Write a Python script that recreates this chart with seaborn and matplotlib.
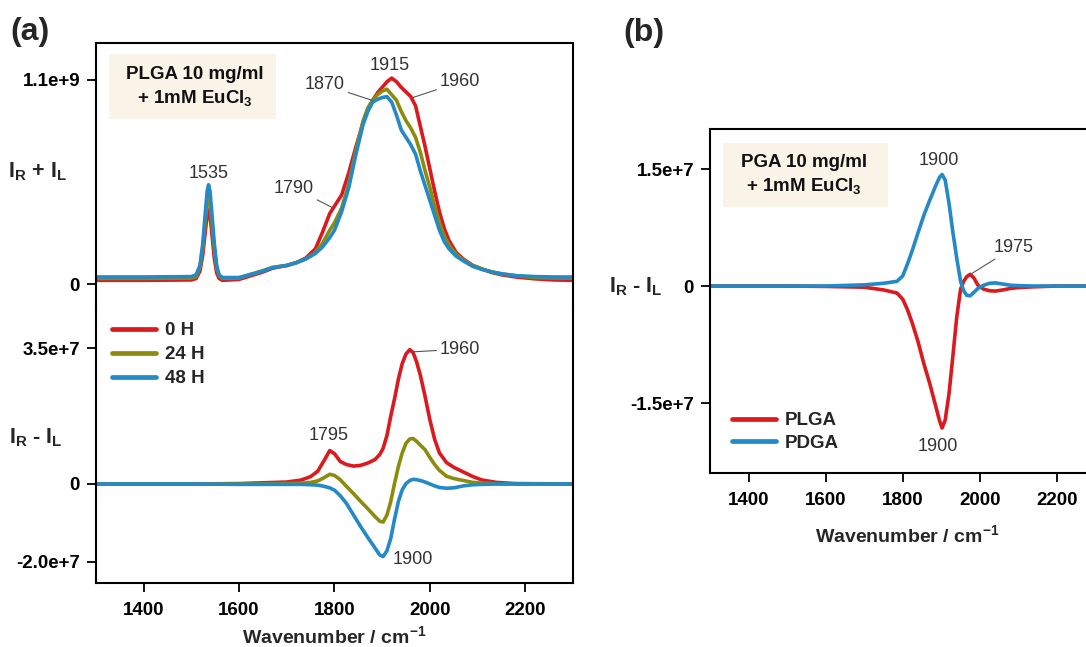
import matplotlib
matplotlib.use("Agg")
import matplotlib.pyplot as plt
import seaborn as sns
from matplotlib.patches import Rectangle

# ---------------- data ----------------
# (a) upper: I_R + I_L, units of 1e9
wn_sum = [1300, 1400, 1500, 1510, 1518, 1524, 1529, 1533, 1536, 1539, 1543, 1548, 1553,
          1558, 1565, 1600, 1650, 1670, 1700,
          1720, 1740, 1760, 1775, 1790, 1800, 1815, 1830, 1845, 1860, 1870, 1880, 1890,
          1900, 1910, 1920, 1930, 1940, 1950, 1960, 1970, 1980, 1990, 2000, 2010, 2020,
          2030, 2040, 2055, 2070, 2090, 2110, 2130, 2150, 2180, 2220, 2260, 2300]
sum_0h = [0.02, 0.02, 0.022, 0.03, 0.07, 0.16, 0.28, 0.37, 0.40, 0.37, 0.27, 0.14, 0.06,
          0.03, 0.02, 0.025, 0.065, 0.085, 0.10,
          0.115, 0.14, 0.19, 0.28, 0.38, 0.42, 0.48, 0.60, 0.74, 0.87, 0.94, 0.99, 1.03,
          1.06, 1.09, 1.11, 1.09, 1.06, 1.035, 1.01, 0.96, 0.85, 0.74, 0.62, 0.50, 0.39,
          0.30, 0.235, 0.17, 0.135, 0.10, 0.08, 0.062, 0.05, 0.038, 0.028, 0.022, 0.02]
sum_24h = [0.03, 0.03, 0.032, 0.04, 0.09, 0.20, 0.34, 0.44, 0.48, 0.44, 0.33, 0.19, 0.085,
           0.045, 0.03, 0.032, 0.072, 0.09, 0.10,
           0.115, 0.135, 0.17, 0.22, 0.29, 0.33, 0.41, 0.54, 0.72, 0.88, 0.95, 0.99, 1.02,
           1.04, 1.05, 1.02, 0.99, 0.93, 0.88, 0.84, 0.79, 0.71, 0.61, 0.52, 0.42, 0.33,
           0.26, 0.21, 0.16, 0.13, 0.10, 0.08, 0.065, 0.055, 0.045, 0.035, 0.032, 0.032]
sum_48h = [0.038, 0.038, 0.04, 0.05, 0.10, 0.22, 0.38, 0.50, 0.535, 0.50, 0.38, 0.22, 0.10,
           0.05, 0.035, 0.035, 0.07, 0.088, 0.10,
           0.115, 0.135, 0.165, 0.20, 0.25, 0.29, 0.39, 0.52, 0.70, 0.86, 0.93, 0.98, 0.995,
           1.005, 1.01, 0.98, 0.91, 0.83, 0.79, 0.75, 0.70, 0.61, 0.53, 0.45, 0.37, 0.29,
           0.23, 0.19, 0.15, 0.125, 0.095, 0.078, 0.065, 0.055, 0.045, 0.04, 0.038, 0.038]

# (a) lower: I_R - I_L, units of 1e6
wn_diff = [1300, 1500, 1600, 1700, 1730, 1750, 1765, 1778, 1790, 1800, 1812, 1825, 1840,
           1855, 1870, 1885, 1895, 1902, 1910, 1918, 1926, 1934, 1942, 1950, 1958, 1965,
           1972, 1980, 1990, 2000, 2010, 2020, 2035, 2050, 2070, 2090, 2110, 2140, 2180, 2300]
diff_0h = [0, 0, 0.1, 0.5, 1.0, 1.9, 3.3, 6.0, 8.6, 7.8, 5.8, 5.0, 4.6,
           4.8, 5.4, 6.3, 7.6, 9.2, 12.5, 17.5, 22.0, 27.0, 31.0, 33.5, 34.6, 33.8,
           31.5, 28.0, 22.5, 16.5, 11.5, 8.0, 5.5, 4.3, 3.1, 1.9, 1.0, 0.4, 0.1, 0]
diff_24h = [0, 0, 0, 0.1, 0.2, 0.4, 0.8, 1.6, 2.5, 2.2, 1.1, -0.6, -2.5,
            -4.5, -6.4, -8.4, -9.6, -9.8, -8.0, -4.5, 0.2, 4.5, 8.0, 10.5, 11.6, 11.7,
            11.0, 10.0, 8.8, 6.8, 5.0, 3.5, 2.0, 1.4, 0.9, 0.4, 0.2, 0.05, 0, 0]
diff_48h = [0, 0, -0.1, -0.1, -0.1, -0.2, -0.3, -0.6, -1.0, -1.6, -3.0, -5.0, -8.0,
            -11.0, -13.8, -16.5, -18.3, -18.7, -17.2, -14.0, -9.0, -4.5, -1.5, 0.1, 0.9, 1.2,
            1.1, 0.9, 0.5, 0.0, -0.5, -0.9, -1.1, -1.0, -0.5, -0.2, -0.1, 0, 0, 0]

# (b): I_R - I_L, units of 1e6
wn_pga = [1300, 1500, 1600, 1700, 1750, 1785, 1800, 1812, 1825, 1840, 1855, 1870, 1885,
          1895, 1902, 1910, 1920, 1930, 1940, 1950, 1958, 1966, 1975, 1985, 1995, 2010,
          2025, 2040, 2060, 2080, 2100, 2140, 2200, 2300]
pga_plga = [0, 0, -0.05, -0.15, -0.5, -0.9, -1.7, -3.0, -4.8, -7.2, -10.0, -12.5, -15.3,
            -17.2, -18.2, -17.2, -13.8, -9.0, -4.0, -0.4, 0.6, 1.2, 1.5, 1.0, 0.1, -0.4,
            -0.6, -0.65, -0.5, -0.3, -0.2, -0.1, 0, 0]
pga_pdga = [0, 0, 0, 0.15, 0.35, 0.6, 1.3, 2.8, 4.6, 6.9, 9.1, 11.0, 12.8,
            13.9, 14.3, 13.6, 10.6, 6.9, 3.6, 0.6, -0.6, -1.2, -1.25, -0.8, -0.3, 0.1,
            0.35, 0.4, 0.25, 0.1, 0.05, 0, 0, 0]

time_labels = ["0 H", "24 H", "48 H"]
pga_labels = ["PLGA", "PDGA"]
xticks = [1400, 1600, 1800, 2000, 2200]

# ---------------- style ----------------
RED, OLIVE, BLUE = "#DA1A1E", "#8C8C0C", "#2389C7"
LW = 2.6
TXT = "#333333"

sns.set_theme(style="ticks")
plt.rcParams["font.family"] = ["Liberation Sans", "DejaVu Sans"]
plt.rcParams.update({
    "mathtext.fontset": "custom",
    "mathtext.rm": "Liberation Sans",
    "mathtext.bf": "Liberation Sans:bold",
    "mathtext.it": "Liberation Sans:italic",
    "axes.linewidth": 1.5,
    "axes.edgecolor": "black",
    "xtick.color": "black",
    "ytick.color": "black",
    "xtick.major.width": 1.3,
    "ytick.major.width": 1.3,
    "xtick.major.size": 6.5,
    "ytick.major.size": 6.5,
})

fig = plt.figure(figsize=(10.86, 6.47), dpi=100)
ax_top = fig.add_axes([0.0884, 0.52087, 0.4392, 0.41267])
ax_bot = fig.add_axes([0.0884, 0.09892, 0.4392, 0.42195])
ax_b = fig.add_axes([0.65378, 0.26893, 0.35497, 0.53168])

# ---------------- panel (a) upper ----------------
for vals, col in zip([sum_0h, sum_24h, sum_48h], [RED, OLIVE, BLUE]):
    sns.lineplot(x=wn_sum, y=vals, ax=ax_top, color=col, lw=LW)
ax_top.set_xlim(1300, 2300)
ax_top.set_ylim(-0.140, 1.299)
ax_top.set_yticks([0, 1.1])
ax_top.set_yticklabels(["0", "1.1e+9"], fontweight="bold", fontsize=13.5)
ax_top.set_xticks([])
ax_top.spines["bottom"].set_visible(False)
ax_top.tick_params(axis="y", pad=5)
ax_top.set_xlabel("")
ax_top.set_ylabel("")

ax_top.add_patch(Rectangle((0.0273, 0.7154), 0.3501, 0.2434, transform=ax_top.transAxes,
                           fc="#FAF4E8", ec="none", zorder=0))
ax_top.text(0.2065, 0.835, "PLGA 10 mg/ml\n+ 1mM EuCl$\\mathbf{_3}$", transform=ax_top.transAxes,
            ha="center", va="center", fontweight="bold", fontsize=13.5, linespacing=1.35,
            color="#111111")

arrow = dict(arrowstyle="-", color="#555555", lw=0.8, shrinkA=0, shrinkB=0)
ax_top.text(1537, 0.598, "1535", ha="center", va="center", fontsize=13, color=TXT)
ax_top.annotate("1790", xy=(1797, 0.41), xytext=(1715, 0.517), ha="center", va="center",
                fontsize=13, color=TXT, arrowprops=arrow)
ax_top.annotate("1870", xy=(1879, 0.99), xytext=(1780, 1.073), ha="center", va="center",
                fontsize=13, color=TXT, arrowprops=arrow)
ax_top.text(1916, 1.18, "1915", ha="center", va="center", fontsize=13, color=TXT)
ax_top.annotate("1960", xy=(1962, 1.003), xytext=(2063, 1.089), ha="center", va="center",
                fontsize=13, color=TXT, arrowprops=arrow)

# ---------------- panel (a) lower ----------------
for vals, col, lab in zip([diff_0h, diff_24h, diff_48h], [RED, OLIVE, BLUE], time_labels):
    sns.lineplot(x=wn_diff, y=vals, ax=ax_bot, color=col, lw=LW, label=lab)
ax_bot.set_xlim(1300, 2300)
ax_bot.set_ylim(-25.5, 44.8)
ax_bot.set_yticks([-20, 0, 35])
ax_bot.set_yticklabels(["-2.0e+7", "0", "3.5e+7"], fontweight="bold", fontsize=13.5)
ax_bot.set_xticks(xticks)
ax_bot.set_xticklabels([str(t) for t in xticks], fontweight="bold", fontsize=13.5)
ax_bot.spines["top"].set_visible(False)
ax_bot.tick_params(axis="y", pad=5)
ax_bot.tick_params(axis="x", pad=7)
ax_bot.set_xlabel("")
ax_bot.set_ylabel("")
leg = ax_bot.legend(loc="upper left", bbox_to_anchor=(0.0335, 0.955), frameon=False,
                    borderpad=0, borderaxespad=0, handlelength=2.35, handletextpad=0.5,
                    labelspacing=0.36, prop={"weight": "bold", "size": 13.5})
for h in leg.legend_handles:
    h.set_linewidth(3.4)

ax_bot.text(1787, 12.6, "1795", ha="center", va="center", fontsize=13, color=TXT)
ax_bot.annotate("1960", xy=(1960, 34.0), xytext=(2063, 34.7), ha="center", va="center",
                fontsize=13, color=TXT, arrowprops=arrow)
ax_bot.text(1965, -19.4, "1900", ha="center", va="center", fontsize=13, color=TXT)

# ---------------- panel (b) ----------------
for vals, col, lab in zip([pga_plga, pga_pdga], [RED, BLUE], pga_labels):
    sns.lineplot(x=wn_pga, y=vals, ax=ax_b, color=col, lw=LW, label=lab)
ax_b.set_xlim(1300, 2300)
ax_b.set_ylim(-23.97, 20.13)
ax_b.set_yticks([-15, 0, 15])
ax_b.set_yticklabels(["-1.5e+7", "0", "1.5e+7"], fontweight="bold", fontsize=13.5)
ax_b.set_xticks(xticks)
ax_b.set_xticklabels([str(t) for t in xticks], fontweight="bold", fontsize=13.5)
ax_b.tick_params(axis="y", pad=5)
ax_b.tick_params(axis="x", pad=7)
ax_b.set_xlabel("")
ax_b.set_ylabel("")
leg_b = ax_b.legend(loc="upper left", bbox_to_anchor=(0.0563, 0.177), frameon=False,
                    borderpad=0, borderaxespad=0, handlelength=2.35, handletextpad=0.5,
                    labelspacing=0.3, prop={"weight": "bold", "size": 13.5})
for h in leg_b.legend_handles:
    h.set_linewidth(3.4)

ax_b.add_patch(Rectangle((0.0337, 0.7733), 0.428, 0.186, transform=ax_b.transAxes,
                         fc="#FAF4E8", ec="none", zorder=0))
ax_b.text(0.2438, 0.8663, "PGA 10 mg/ml\n+ 1mM EuCl$\\mathbf{_3}$", transform=ax_b.transAxes,
          ha="center", va="center", fontweight="bold", fontsize=13.5, linespacing=1.35,
          color="#111111")
ax_b.text(1893, 16.15, "1900", ha="center", va="center", fontsize=13, color=TXT)
ax_b.annotate("1975", xy=(1977, 1.54), xytext=(2088, 4.96), ha="center", va="center",
              fontsize=13, color=TXT, arrowprops=arrow)
ax_b.text(1890, -20.6, "1900", ha="center", va="center", fontsize=13, color=TXT)

# ---------------- labels ----------------
fig.text(0.0276, 0.9505, "(a)", fontsize=23, fontweight="bold", ha="center", va="center")
fig.text(0.593, 0.949, "(b)", fontsize=23, fontweight="bold", ha="center", va="center")
fig.text(0.035, 0.734, r"$\mathbf{I_R}$ + $\mathbf{I_L}$", fontsize=15.5, fontweight="bold",
         ha="center", va="center")
fig.text(0.033, 0.323, r"$\mathbf{I_R}$ - $\mathbf{I_L}$", fontsize=15.5, fontweight="bold",
         ha="center", va="center")
fig.text(0.5856, 0.5564, r"$\mathbf{I_R}$ - $\mathbf{I_L}$", fontsize=15.5, fontweight="bold",
         ha="center", va="center")
fig.text(0.308, 0.006, r"Wavenumber / cm$\mathbf{^{-1}}$", fontsize=14, fontweight="bold",
         ha="center", va="baseline")
fig.text(0.8349, 0.1628, r"Wavenumber / cm$\mathbf{^{-1}}$", fontsize=14, fontweight="bold",
         ha="center", va="baseline")

fig.savefig("out.png", dpi=100)
